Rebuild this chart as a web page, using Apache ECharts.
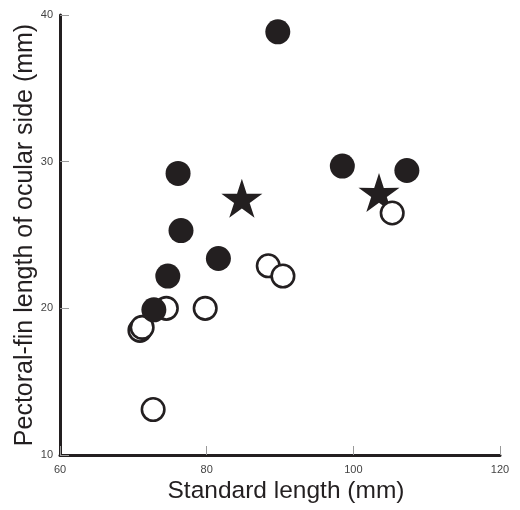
<!DOCTYPE html>
<html><head><meta charset="utf-8">
<script src="https://cdn.jsdelivr.net/npm/echarts@6/dist/echarts.min.js"></script>
<style>html,body{margin:0;padding:0;background:#fff}#c{width:520px;height:510px}</style>
</head><body><div id="c"></div>
<script>
const xTicks = [60, 80, 100, 120];
const yTicks = [10, 20, 30, 40];
const filledPoints = [[89.7,38.85],[76.1,29.2],[76.5,25.3],[81.6,23.4],[74.7,22.2],[72.8,19.9],[98.5,29.7],[107.3,29.4]];
const starPoints = [[84.8,27.5],[103.5,27.9]];
const openPoints = [[105.3,26.5],[88.4,22.9],[90.4,22.2],[79.8,20.0],[74.5,20.0],[70.9,18.5],[71.2,18.7],[72.7,13.1]];

const ink = '#231f20';
const star = 'path://M50 0 L61.2 34.6 L97.6 34.5 L68.1 55.9 L79.4 90.5 L50 69 L20.6 90.5 L31.9 55.9 L2.4 34.5 L38.8 34.6 Z';
const chart = echarts.init(document.getElementById('c'));
const labelStyle = {fontFamily: '"Liberation Sans Narrow","Liberation Sans",Arial,sans-serif', fontSize: 11, color: '#444'};
chart.setOption({
  animation: false,
  grid: {left: 60, right: 20, top: 15, bottom: 55},
  xAxis: {
    type: 'value', min: xTicks[0], max: xTicks[xTicks.length-1], interval: 20,
    name: 'Standard length (mm)', nameLocation: 'middle', nameGap: 24, nameMoveOverlap: false,
    nameTextStyle: {fontFamily: '"Liberation Sans",Arial,sans-serif', fontSize: 24.5, color: ink, padding: [0, 0, 0, 12]},
    axisLine: {lineStyle: {color: ink, width: 3}},
    axisTick: {inside: true, length: 9, lineStyle: {color: '#999', width: 1}},
    axisLabel: Object.assign({margin: 9}, labelStyle),
    splitLine: {show: false}
  },
  yAxis: {
    type: 'value', min: yTicks[0], max: yTicks[yTicks.length-1], interval: 10,
    name: 'Pectoral-fin length of ocular side (mm)', nameLocation: 'middle', nameGap: 22, nameMoveOverlap: false,
    nameTextStyle: {fontFamily: '"Liberation Sans",Arial,sans-serif', fontSize: 25, color: ink, padding: [0, 0, 0, 0]},
    axisLine: {show: true, lineStyle: {color: ink, width: 3}},
    axisTick: {show: true, inside: true, length: 9, lineStyle: {color: '#999', width: 1}},
    axisLabel: Object.assign({margin: 7}, labelStyle),
    splitLine: {show: false}
  },
  series: [
    {type: 'scatter', data: starPoints, symbol: star, symbolKeepAspect: true, symbolSize: 41, itemStyle: {color: ink, opacity: 1}, z: 2},
    {type: 'scatter', data: openPoints, symbol: 'circle', symbolSize: 22.5, itemStyle: {color: '#fff', borderColor: ink, borderWidth: 2.6, opacity: 1}, z: 3},
    {type: 'scatter', data: filledPoints, symbol: 'circle', symbolSize: 25, itemStyle: {color: ink, opacity: 1}, z: 4}
  ]
});
</script></body></html>
